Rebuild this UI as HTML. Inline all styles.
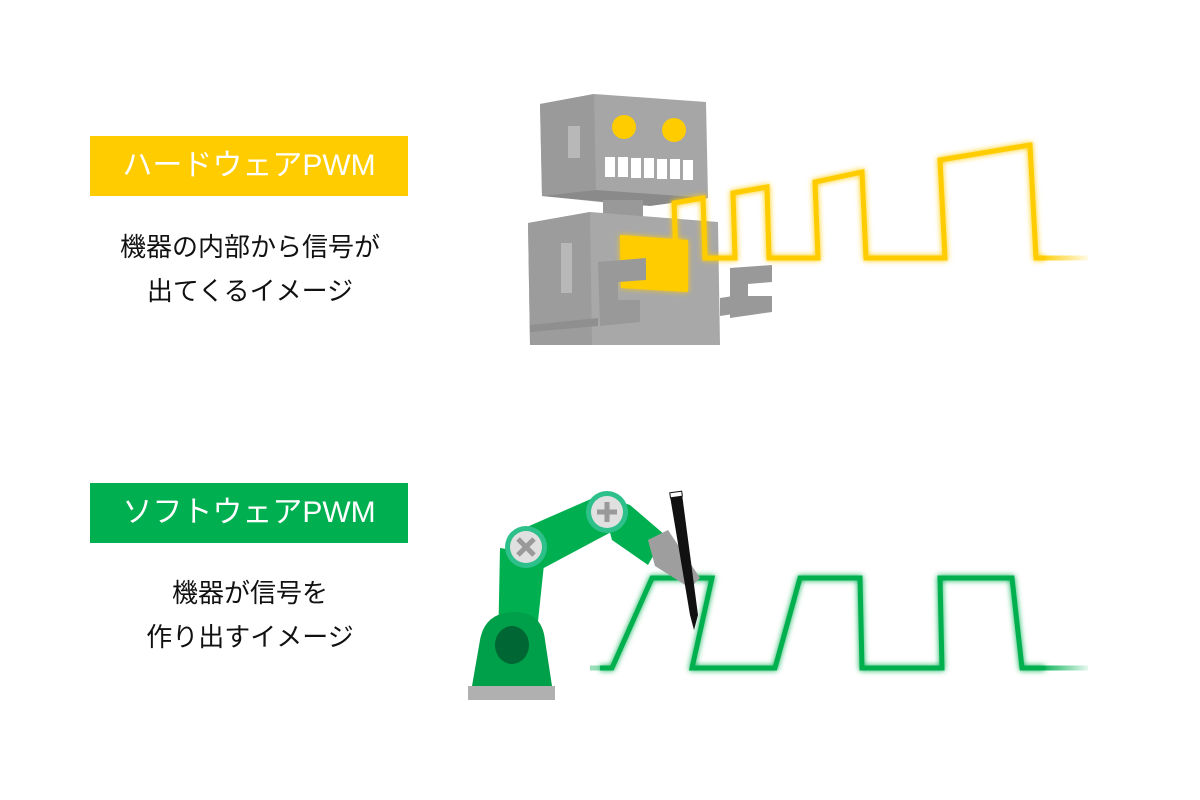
<!DOCTYPE html>
<html><head><meta charset="utf-8"><style>
html,body{margin:0;padding:0;background:#fff;width:1200px;height:800px;overflow:hidden;position:relative;font-family:"Liberation Sans","Noto Sans CJK JP",sans-serif}
.lab{position:absolute;left:90px;width:318px;height:60px;color:#fff;font-size:30px;line-height:60px;text-align:center}
.txt{position:absolute;left:60px;width:380px;text-align:center;font-size:26px;line-height:44px;color:#111}
svg{position:absolute;left:0;top:0}
</style></head><body>
<div class="lab" style="top:136px;background:#ffcc00">ハードウェアPWM</div>
<div class="txt" style="top:225px">機器の内部から信号が<br>出てくるイメージ</div>
<div class="lab" style="top:483px;background:#00b050">ソフトウェアPWM</div>
<div class="txt" style="top:571px">機器が信号を<br>作り出すイメージ</div>
<svg width="1200" height="800" viewBox="0 0 1200 800">
<defs>
<filter id="gy" x="-20%" y="-20%" width="140%" height="140%"><feGaussianBlur stdDeviation="3" result="b"/><feMerge><feMergeNode in="b"/><feMergeNode in="SourceGraphic"/></feMerge></filter>
<linearGradient id="fy" x1="1040" x2="1088" y1="0" y2="0" gradientUnits="userSpaceOnUse"><stop offset="0" stop-color="#ffcc00"/><stop offset="1" stop-color="#ffcc00" stop-opacity="0.1"/></linearGradient>
<linearGradient id="fg" x1="1040" x2="1088" y1="0" y2="0" gradientUnits="userSpaceOnUse"><stop offset="0" stop-color="#00b050"/><stop offset="1" stop-color="#00b050" stop-opacity="0.1"/></linearGradient>
</defs>
<polygon points="540,104 594,94 706,102 708,198 640,206 542,196" fill="#a6a6a6"/>
<polygon points="540,104 594,94 596,190 542,196" fill="#9a9a9a"/>
<polygon points="542,196 596,190 708,198 650,206" fill="#8a8a8a"/>
<rect x="568" y="126" width="12" height="32" fill="#b8b8b8"/>
<circle cx="624" cy="127" r="12" fill="#ffcc00"/>
<circle cx="674" cy="130" r="12" fill="#ffcc00"/>
<g fill="#fff"><rect x="605" y="157" width="10" height="20"/><rect x="618" y="157" width="10" height="20"/><rect x="631" y="158" width="10" height="20"/><rect x="644" y="158" width="10" height="20"/><rect x="657" y="159" width="10" height="20"/><rect x="670" y="159" width="10" height="20"/><rect x="683" y="160" width="10" height="20"/></g>
<rect x="603" y="200" width="40" height="18" fill="#999"/>
<polygon points="528,223 590,212 718,222 720,345 530,345" fill="#a8a8a8"/>
<polygon points="528,223 590,212 592,345 530,345" fill="#9c9c9c"/>
<rect x="561" y="243" width="11" height="50" fill="#b8b8b8"/>
<polygon points="530,325 598,318 598,326 530,332" fill="#8f8f8f"/>
<polygon points="620,235 688,240 688,292 621,288" fill="#ffcc00" filter="url(#gy)"/>
<polygon points="598,262 646,258 646,280 618,282 618,300 640,300 640,322 600,326" fill="#999"/>
<polygon points="720,298 733,296 733,314 720,316" fill="#999"/>
<polygon points="730,268 772,265 772,282 748,284 748,296 772,296 772,312 730,318" fill="#999"/>
<polyline points="648,258 676,258 674,203 703,198 705,258 735,258 733,193 767,187 769,258 818,258 815,182 862,172 866,258 945,258 940,160 1030,145 1036,258 1045,258" fill="none" stroke="#ffcc00" stroke-width="5" filter="url(#gy)"/>
<line x1="1040" y1="258" x2="1088" y2="258" stroke="url(#fy)" stroke-width="5"/>
<polyline points="600,668 612,668 652,578 712,578 692,668 775,668 800,578 860,578 862,668 942,668 940,578 1012,578 1022,668 1045,668" fill="none" stroke="#00b050" stroke-width="5" filter="url(#gy)"/>
<line x1="590" y1="668" x2="606" y2="668" stroke="#00b050" stroke-opacity="0.4" stroke-width="5"/>
<line x1="1040" y1="668" x2="1088" y2="668" stroke="url(#fg)" stroke-width="5"/>
<polygon points="500,548 545,555 535,650 498,650" fill="#00b050"/>
<polygon points="520,530 600,495 615,530 540,570" fill="#00b050"/>
<polygon points="600,495 630,505 665,535 648,565 612,540" fill="#00b050"/>
<polygon points="648,540 668,530 700,578 690,588 655,566" fill="#9e9e9e"/>
<path d="M472,686 L480,640 Q485,612 515,612 Q542,612 545,640 L552,686 Z" fill="#00a04a"/>
<ellipse cx="512" cy="645" rx="17" ry="19" fill="#006633"/>
<rect x="468" y="686" width="87" height="14" fill="#b0b0b0"/>
<circle cx="526" cy="547" r="21" fill="#2ec08a"/><circle cx="526" cy="547" r="16" fill="#e0e0e0"/>
<g stroke="#999" stroke-width="5"><line x1="518" y1="539" x2="534" y2="555"/><line x1="534" y1="539" x2="518" y2="555"/></g>
<circle cx="607" cy="512" r="21" fill="#2ec08a"/><circle cx="607" cy="512" r="16" fill="#e0e0e0"/>
<g stroke="#999" stroke-width="5"><line x1="607" y1="502" x2="607" y2="522"/><line x1="597" y1="512" x2="617" y2="512"/></g>
<polygon points="670,496 682,494 698,615 694,630 690,615" fill="#111"/>
<rect x="670" y="492" width="12" height="5" fill="#fff" stroke="#111" stroke-width="1" transform="rotate(-8 676 494)"/>
</svg>
</body></html>
